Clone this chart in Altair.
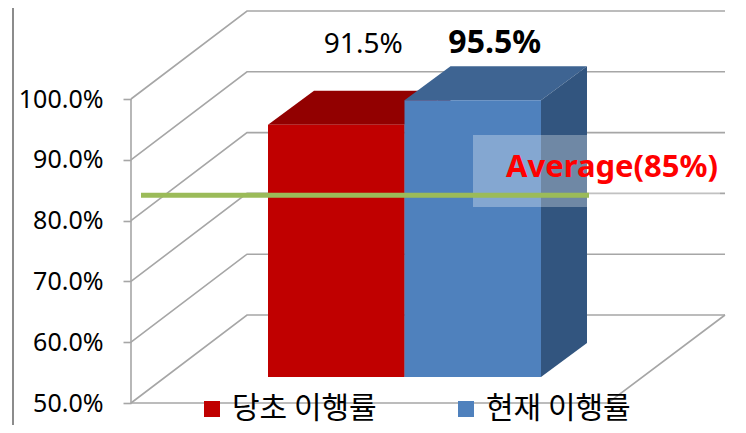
import altair as alt
import pandas as pd

# ---------------- data ----------------
categories = ["당초 이행률", "현재 이행률"]
values = [91.5, 95.5]
average = 85.0
tick_values = [50, 60, 70, 80, 90, 100]
value_labels = ["91.5%", "95.5%"]
avg_label = "Average(85%)"

# ---------------- style / layout ----------------
front_colors = ["#C00000", "#4F81BD"]
top_colors = ["#920000", "#3E6492"]
side_colors = ["#7A0000", "#32557F"]
GRID = "#A6A6A6"

PX = 6.08                 # pixels per percentage point on the front plane
W, H = 599, 417           # plot area size
Y_TOP = 50 + 395 / PX
Y_BOT = Y_TOP - H / PX

WALL_DX, WALL_DY = 116, 88 / PX     # depth of the walls
FLOOR_FRONT_R = 477                 # front-right corner of the floor
WALL_RIGHT = 594                    # right end of the back wall lines
BAR_X0, BAR_W = 137, 136.5          # first bar front-left and bar width
BASE_DY = 26 / PX                   # bars sit a bit behind the front plane
TOP_DX, TOP_DY = 46, 34 / PX        # depth of the bars

xs = alt.Scale(domain=[0, W], zero=False, nice=False)
ys = alt.Scale(domain=[Y_BOT, Y_TOP], zero=False, nice=False)
YAX = alt.Axis(values=tick_values, labelExpr="format(datum.value, '.1f') + '%'",
               tickSize=8, tickColor=GRID, tickWidth=1.6, domain=False, grid=False,
               labelFontSize=25, labelFont="Noto Sans", labelColor="black",
               labelPadding=20, title=None)


def X(f):
    return alt.X(f, type="quantitative", scale=xs, axis=None)


def Y(f):
    return alt.Y(f, type="quantitative", scale=ys, axis=YAX)


layers = []

# left slide border
layers.append(alt.Chart(pd.DataFrame({"x": [-118]})).mark_rule(
    color="#8C8C8C", strokeWidth=2, clip=False).encode(x=X("x")))

# wall grid lines (side wall diagonal + back wall horizontal)
rows = []
for t in tick_values:
    rows += [dict(k=str(t), o=0, x=0, y=t),
             dict(k=str(t), o=1, x=WALL_DX, y=t + WALL_DY),
             dict(k=str(t), o=2, x=WALL_RIGHT, y=t + WALL_DY)]
rows += [dict(k="floor", o=0, x=0, y=tick_values[0]),
         dict(k="floor", o=1, x=FLOOR_FRONT_R, y=tick_values[0]),
         dict(k="floor", o=2, x=WALL_RIGHT, y=tick_values[0] + WALL_DY)]
grid_df = pd.DataFrame(rows)
layers.append(alt.Chart(grid_df).mark_line(color=GRID, strokeWidth=1.6).encode(
    x=X("x"), y=Y("y"), detail="k:N", order="o:Q"))

# front axis line
layers.append(alt.Chart(pd.DataFrame({"x": [0], "y": [tick_values[0]], "y2": [tick_values[-1]]}))
              .mark_rule(color=GRID, strokeWidth=1.6).encode(x=X("x"), y=Y("y"), y2="y2"))

# bars: tops and sides
front_rows = []
for i, (cat, v) in enumerate(zip(categories, values)):
    x0 = BAR_X0 + i * BAR_W
    x1 = x0 + BAR_W
    base = tick_values[0] + BASE_DY
    top = v + BASE_DY
    top_df = pd.DataFrame({"y": [top, top + TOP_DY],
                           "xa": [x0, x0 + TOP_DX], "xb": [x1, x1 + TOP_DX]})
    layers.append(alt.Chart(top_df).mark_area(orient="horizontal", color=top_colors[i])
                  .encode(y=Y("y"), x=X("xa"), x2="xb"))
    side_df = pd.DataFrame({"x": [x1, x1 + TOP_DX],
                            "ya": [base, base + TOP_DY], "yb": [top, top + TOP_DY]})
    layers.append(alt.Chart(side_df).mark_area(orient="vertical", color=side_colors[i])
                  .encode(x=X("x"), y=Y("ya"), y2="yb"))
    front_rows.append(dict(cat=cat, x0=x0, x1=x1, y0=base, y1=top))

front_df = pd.DataFrame(front_rows)
layers.append(alt.Chart(front_df).mark_rect().encode(
    x=X("x0"), x2="x1", y=Y("y0"), y2="y1",
    color=alt.Color("cat:N", scale=alt.Scale(domain=categories, range=front_colors),
                    legend=alt.Legend(orient="none", legendX=66, legendY=386,
                                      direction="horizontal", title=None,
                                      symbolType="square", symbolSize=256,
                                      symbolStrokeWidth=0, labelFontSize=30,
                                      labelFont="Noto Sans CJK KR", labelColor="black",
                                      labelOffset=5, columnPadding=74, padding=0,
                                      labelLimit=300))))

# translucent box behind the average label
layers.append(alt.Chart(pd.DataFrame({"x0": [342], "x1": [589],
                                      "y0": [50 + (403 - 207) / PX], "y1": [50 + (403 - 135) / PX]}))
              .mark_rect(color="white", opacity=0.3).encode(x=X("x0"), x2="x1", y=Y("y0"), y2="y1"))

# average line
layers.append(alt.Chart(pd.DataFrame({"x0": [10], "x1": [458], "y": [average]}))
              .mark_rule(color="#9BBB59", strokeWidth=5, yOffset=5)
              .encode(x=X("x0"), x2="x1", y=Y("y")))

# average label
layers.append(alt.Chart(pd.DataFrame({"x": [481], "y": [average], "t": [avg_label]}))
              .mark_text(color="#FF0000", fontSize=31, fontWeight="bold", font="Noto Sans",
                         align="center", baseline="middle", yOffset=-22)
              .encode(x=X("x"), y=Y("y"), text="t:N"))

# value labels above the bars
LABEL_Y = 50 + (403 - 53) / PX
for i, lab in enumerate(value_labels):
    cx = BAR_X0 + i * BAR_W + BAR_W / 2 + TOP_DX / 2
    layers.append(alt.Chart(pd.DataFrame({"x": [cx], "y": [LABEL_Y], "t": [lab]}))
                  .mark_text(color="black", fontSize=28 if i == 0 else 32,
                             fontWeight="normal" if i == 0 else "bold",
                             font="Noto Sans", align="center", baseline="alphabetic",
                             xOffset=4 if i == 0 else -1)
                  .encode(x=X("x"), y=Y("y"), text="t:N"))

chart = alt.layer(*layers).properties(
    width=W, height=H,
    autosize=alt.AutoSizeParams(type="none"),
    padding={"left": 123, "top": 0, "right": 0, "bottom": 0},
    background="white",
).configure_view(stroke=None)

chart.save("out.html", embed_options={"renderer": "svg", "actions": False})
